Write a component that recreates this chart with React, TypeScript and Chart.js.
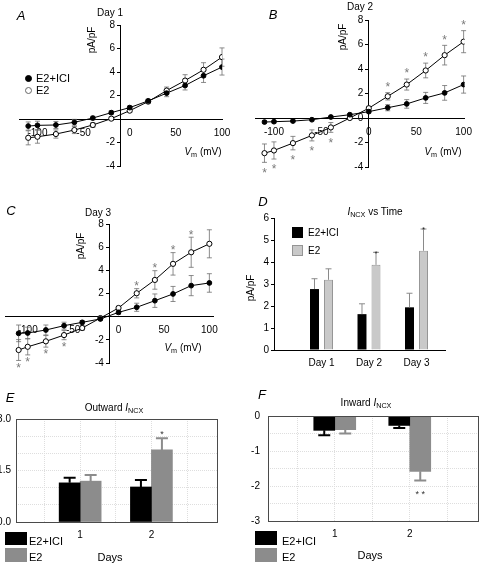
import React, { useEffect, useRef } from 'react';
import { Chart, registerables } from 'chart.js';

Chart.register(...registerables);

const FONT = "'Liberation Sans', Arial, Helvetica, sans-serif";

// ---------- I-V data (panels A-C) ----------
const vm = [-110, -100, -80, -60, -40, -20, 0, 20, 40, 60, 80, 100];
const ivXTicks = [-100, -50, 0, 50, 100];
const ivYTicks = [-4, -2, 2, 4, 6, 8];
const ivYTicksWithZero = [-4, -2, 0, 2, 4, 6, 8];

const day1IciMean = [-0.6, -0.54, -0.51, -0.28, 0.08, 0.54, 0.97, 1.54, 2.2, 2.85, 3.68, 4.42];
const day1IciSem = [0.35, 0.35, 0.3, 0.25, 0.15, 0.15, 0.15, 0.15, 0.3, 0.38, 0.57, 0.68];
const day1E2Mean = [-1.6, -1.51, -1.28, -0.94, -0.51, 0.03, 0.71, 1.48, 2.42, 3.27, 4.19, 5.27];
const day1E2Sem = [0.6, 0.55, 0.35, 0.3, 0.2, 0.15, 0.15, 0.15, 0.3, 0.5, 0.6, 0.78];
const day1E2Sig = [0, 0, 0, 0, 0, 0, 0, 0, 0, 0, 0, 0];

const day2IciMean = [-0.33, -0.3, -0.25, -0.14, 0.08, 0.27, 0.52, 0.84, 1.15, 1.64, 2.05, 2.73];
const day2IciSem = [0.1, 0.1, 0.08, 0.08, 0.08, 0.08, 0.1, 0.25, 0.35, 0.45, 0.6, 0.7];
const day2E2Mean = [-2.87, -2.65, -2.05, -1.42, -0.77, 0, 0.8, 1.77, 2.73, 3.88, 5.13, 6.23];
const day2E2Sem = [0.75, 0.7, 0.55, 0.45, 0.4, 0.1, 0.15, 0.3, 0.45, 0.6, 0.8, 0.9];
const day2E2Sig = [1, 1, 1, 1, 1, 0, 0, 1, 1, 1, 1, 1];

const day3IciMean = [-1.44, -1.41, -1.15, -0.78, -0.49, -0.2, 0.37, 0.81, 1.38, 1.96, 2.68, 2.91];
const day3IciSem = [0.72, 0.5, 0.43, 0.3, 0.15, 0.1, 0.15, 0.35, 0.58, 0.65, 0.87, 0.8];
const day3E2Mean = [-2.88, -2.6, -2.13, -1.59, -0.98, -0.12, 0.75, 2.02, 3.17, 4.56, 5.56, 6.29];
const day3E2Sem = [0.9, 0.7, 0.5, 0.4, 0.2, 0.1, 0.15, 0.4, 0.8, 0.97, 1.3, 1.21];
const day3E2Sig = [1, 1, 1, 1, 0, 0, 0, 1, 1, 1, 1, 0];

// ---------- I_NCX vs time (panel D) ----------
const days = ['Day 1', 'Day 2', 'Day 3'];
const dayPos = [1, 2, 3];
const timeIciMean = [2.77, 1.63, 1.94];
const timeIciSem = [0.47, 0.47, 0.64];
const timeE2Mean = [3.19, 3.87, 4.51];
const timeE2Sem = [0.5, 0.57, 0.99];
const timeE2Sig = [0, 1, 1];
const timeYTicks = [0, 1, 2, 3, 4, 5, 6];

// ---------- Outward / inward I_NCX (panels E, F) ----------
const dayNums = [1, 2];
const gridXTicks = [0.5, 1, 1.5, 2, 2.5];
const outIciMean = [1.14, 1.02];
const outIciSem = [0.15, 0.2];
const outE2Mean = [1.19, 2.1];
const outE2Sem = [0.18, 0.34];
const outE2Sig = [0, 1];
const outYTicks = [0, 0.5, 1, 1.5, 2, 2.5, 3];
const outYLabels = [0, 1.5, 3];

const inIciMean = [-0.41, -0.27];
const inIciSem = [0.14, 0.07];
const inE2Mean = [-0.39, -1.58];
const inE2Sem = [0.11, 0.26];
const inE2Sig = [0, 1];
const inYTicks = [-3, -2.5, -2, -1.5, -1, -0.5, 0];
const inYLabels = [-3, -2, -1, 0];

// ---------- plugins ----------
function valueOf(d: any) {
  return typeof d === 'number' ? d : d.y;
}

function drawErrors(chart: any, opts: any, layer: string) {
  const sets = (opts && opts.sets) || [];
  const ctx = chart.ctx;
  for (const s of sets) {
    if ((s.layer || 'before') !== layer) continue;
    const meta = chart.getDatasetMeta(s.dataset);
    const ys = chart.scales[meta.yAxisID];
    const data = chart.data.datasets[s.dataset].data;
    ctx.save();
    ctx.strokeStyle = s.color;
    ctx.lineWidth = s.width;
    meta.data.forEach((el: any, j: number) => {
      const v = valueOf(data[j]);
      const e = s.errors[j];
      const x = el.x;
      ctx.beginPath();
      if (s.mode === 'both') {
        const y1 = ys.getPixelForValue(v + e);
        const y2 = ys.getPixelForValue(v - e);
        ctx.moveTo(x, y1);
        ctx.lineTo(x, y2);
        ctx.moveTo(x - s.cap, y1);
        ctx.lineTo(x + s.cap, y1);
        ctx.moveTo(x - s.cap, y2);
        ctx.lineTo(x + s.cap, y2);
      } else {
        const sg = v >= 0 ? 1 : -1;
        const y0 = ys.getPixelForValue(v);
        const y1 = ys.getPixelForValue(v + sg * e);
        ctx.moveTo(x, y0);
        ctx.lineTo(x, y1);
        ctx.moveTo(x - s.cap, y1);
        ctx.lineTo(x + s.cap, y1);
      }
      ctx.stroke();
    });
    ctx.restore();
  }
}

const errorBars = {
  id: 'errorBars',
  beforeDatasetsDraw(chart: any, _a: any, opts: any) {
    drawErrors(chart, opts, 'before');
  },
  afterDatasetsDraw(chart: any, _a: any, opts: any) {
    drawErrors(chart, opts, 'after');
  },
};

const stars = {
  id: 'stars',
  afterDatasetsDraw(chart: any, _a: any, opts: any) {
    const items = (opts && opts.items) || [];
    const ctx = chart.ctx;
    ctx.save();
    ctx.font = opts.font;
    ctx.fillStyle = opts.color;
    ctx.textAlign = 'center';
    ctx.textBaseline = 'middle';
    for (const it of items) {
      const meta = chart.getDatasetMeta(it.dataset);
      const el = meta.data[it.index];
      const ys = chart.scales[meta.yAxisID];
      const v = valueOf(chart.data.datasets[it.dataset].data[it.index]);
      const sg = v >= 0 ? 1 : -1;
      const yEdge = ys.getPixelForValue(v + sg * it.err);
      const y = yEdge - sg * opts.gap + (opts.shift || 0);
      ctx.fillText(it.text, el.x, y);
    }
    ctx.restore();
  },
};

const frame = {
  id: 'frame',
  afterDatasetsDraw(chart: any, _a: any, opts: any) {
    if (!opts || !opts.color) return;
    const { left, top, right, bottom } = chart.chartArea;
    const ctx = chart.ctx;
    ctx.save();
    ctx.strokeStyle = opts.color;
    ctx.lineWidth = 1;
    ctx.strokeRect(Math.round(left) + 0.5, Math.round(top) + 0.5, Math.round(right - left), Math.round(bottom - top));
    ctx.restore();
  },
};

function starItems(sig: number[], err: number[], dataset: number, text: string) {
  const out: any[] = [];
  sig.forEach((s, i) => {
    if (s) out.push({ dataset, index: i, err: err[i], text });
  });
  return out;
}

// ---------- config builders ----------
function ivConfig(p: any) {
  return {
    type: 'line',
    data: {
      datasets: [
        {
          label: 'E2+ICI',
          data: vm.map((x, i) => ({ x, y: p.ici[i] })),
          borderColor: '#000',
          borderWidth: 1,
          pointRadius: 2.4,
          pointBackgroundColor: '#000',
          pointBorderColor: '#000',
          pointBorderWidth: 1,
          tension: 0,
          fill: false,
        },
        {
          label: 'E2',
          data: vm.map((x, i) => ({ x, y: p.e2[i] })),
          borderColor: '#000',
          borderWidth: 1,
          pointRadius: 2.6,
          pointBackgroundColor: '#fff',
          pointBorderColor: '#000',
          pointBorderWidth: 1,
          tension: 0,
          fill: false,
        },
      ],
    },
    options: {
      responsive: false,
      animation: false,
      events: [],
      layout: { padding: p.pad },
      plugins: {
        legend: { display: false },
        tooltip: { enabled: false },
        errorBars: {
          sets: [
            { dataset: 0, errors: p.iciErr, color: '#6e6e6e', width: 0.8, cap: 2.5, mode: 'both', layer: 'before' },
            { dataset: 1, errors: p.e2Err, color: '#6e6e6e', width: 0.8, cap: 2.5, mode: 'both', layer: 'before' },
          ],
        },
        stars: {
          items: starItems(p.sig, p.e2Err, 1, '*'),
          gap: p.starGap,
          shift: 3,
          font: `12px ${FONT}`,
          color: '#7a7a7a',
        },
      },
      scales: {
        x: {
          type: 'linear',
          min: p.xMin,
          max: p.xMax,
          position: { y: 0 },
          afterFit: (s: any) => {
            s.height = 0;
          },
          afterBuildTicks: (s: any) => {
            s.ticks = ivXTicks.map((v) => ({ value: v }));
          },
          grid: { drawOnChartArea: false, drawTicks: false, color: '#000' },
          border: { color: '#000', width: 1 },
          ticks: { color: '#000', font: { family: FONT, size: 10 }, padding: 8, maxRotation: 0, autoSkip: false },
        },
        y: {
          type: 'linear',
          min: -4,
          max: 8,
          position: { x: p.axisX },
          afterFit: (s: any) => {
            s.width = 0;
          },
          afterBuildTicks: (s: any) => {
            s.ticks = p.yTicks.map((v: number) => ({ value: v }));
          },
          grid: { drawOnChartArea: false, drawTicks: true, tickLength: 3, color: '#000' },
          border: { color: '#000', width: 1 },
          ticks: {
            color: '#000',
            font: { family: FONT, size: 10 },
            autoSkip: false,
            callback: (v: any) => `${v}  `,
          },
        },
      },
    },
    plugins: [errorBars, stars],
  };
}

function timeConfig() {
  return {
    type: 'bar',
    data: {
      datasets: [
        {
          label: 'E2+ICI',
          data: dayPos.map((x, i) => ({ x, y: timeIciMean[i] })),
          backgroundColor: '#000',
          borderWidth: 0,
          categoryPercentage: 0.59,
          barPercentage: 0.64,
        },
        {
          label: 'E2',
          data: dayPos.map((x, i) => ({ x, y: timeE2Mean[i] })),
          backgroundColor: '#c9c9c9',
          borderColor: '#959595',
          borderWidth: 1,
          categoryPercentage: 0.59,
          barPercentage: 0.64,
        },
      ],
    },
    options: {
      responsive: false,
      animation: false,
      events: [],
      layout: { padding: { left: 0, right: 35, top: 18, bottom: 20 } },
      plugins: {
        legend: { display: false },
        tooltip: { enabled: false },
        errorBars: {
          sets: [
            { dataset: 0, errors: timeIciSem, color: '#8a8a8a', width: 1, cap: 3, mode: 'out', layer: 'after' },
            { dataset: 1, errors: timeE2Sem, color: '#8a8a8a', width: 1, cap: 3, mode: 'out', layer: 'after' },
          ],
        },
        stars: {
          items: starItems(timeE2Sig, timeE2Sem, 1, '*'),
          gap: 1,
          shift: 2,
          font: `8px ${FONT}`,
          color: '#222',
        },
      },
      scales: {
        x: {
          type: 'linear',
          min: 0,
          max: 3.6,
          offset: false,
          position: 'bottom',
          afterFit: (s: any) => {
            s.height = 25;
          },
          afterBuildTicks: (s: any) => {
            s.ticks = dayPos.map((v) => ({ value: v }));
          },
          grid: { offset: false, drawOnChartArea: false, drawTicks: false, color: '#000' },
          border: { color: '#000', width: 1 },
          ticks: {
            color: '#000',
            font: { family: FONT, size: 10 },
            padding: 7,
            maxRotation: 0,
            autoSkip: false,
            callback: (v: any) => {
              const k = dayPos.indexOf(v);
              return k >= 0 ? days[k] : '';
            },
          },
        },
        y: {
          type: 'linear',
          min: 0,
          max: 6,
          position: 'left',
          afterFit: (s: any) => {
            s.width = 34;
          },
          afterBuildTicks: (s: any) => {
            s.ticks = timeYTicks.map((v) => ({ value: v }));
          },
          grid: { drawOnChartArea: false, drawTicks: true, tickLength: 3, color: '#000' },
          border: { color: '#000', width: 1 },
          ticks: { color: '#000', font: { family: FONT, size: 10 }, padding: 2, autoSkip: false },
        },
      },
    },
    plugins: [errorBars, stars],
  };
}

function boxConfig(p: any) {
  return {
    type: 'bar',
    data: {
      datasets: [
        {
          label: 'E2+ICI',
          data: dayNums.map((x, i) => ({ x, y: p.ici[i] })),
          backgroundColor: '#000',
          borderWidth: 0,
          barThickness: 21,
        },
        {
          label: 'E2',
          data: dayNums.map((x, i) => ({ x, y: p.e2[i] })),
          backgroundColor: '#8c8c8c',
          borderWidth: 0,
          barThickness: 21,
        },
      ],
    },
    options: {
      responsive: false,
      animation: false,
      events: [],
      layout: { padding: p.pad },
      plugins: {
        legend: { display: false },
        tooltip: { enabled: false },
        frame: { color: '#4a4a4a' },
        errorBars: {
          sets: [
            { dataset: 0, errors: p.iciErr, color: '#000', width: 2, cap: 6, mode: 'out', layer: 'after' },
            { dataset: 1, errors: p.e2Err, color: '#8c8c8c', width: 2, cap: 6, mode: 'out', layer: 'after' },
          ],
        },
        stars: {
          items: starItems(p.sig, p.e2Err, 1, p.starText),
          gap: p.starGap,
          shift: 2,
          font: `9px ${FONT}`,
          color: '#333',
        },
      },
      scales: {
        x: {
          type: 'linear',
          min: p.xMin,
          max: p.xMax,
          offset: false,
          position: 'bottom',
          afterFit: (s: any) => {
            s.height = p.xAxisH;
          },
          afterBuildTicks: (s: any) => {
            s.ticks = gridXTicks.map((v) => ({ value: v }));
          },
          grid: { offset: false, drawTicks: false, color: '#dedede', lineWidth: 1 },
          border: { display: false, dash: [1, 1] },
          ticks: {
            color: '#000',
            font: { family: FONT, size: 10 },
            padding: 7,
            maxRotation: 0,
            autoSkip: false,
            callback: (v: any) => (dayNums.includes(v) ? String(v) : ''),
          },
        },
        y: {
          type: 'linear',
          min: p.yMin,
          max: p.yMax,
          position: 'left',
          afterFit: (s: any) => {
            s.width = p.yAxisW;
          },
          afterBuildTicks: (s: any) => {
            s.ticks = p.yTicks.map((v: number) => ({ value: v }));
          },
          grid: { drawTicks: false, color: '#dedede', lineWidth: 1 },
          border: { display: false, dash: [1, 1] },
          ticks: {
            color: '#000',
            font: { family: FONT, size: 10 },
            padding: p.yPad,
            autoSkip: false,
            callback: p.yLabel,
          },
        },
      },
    },
    plugins: [errorBars, stars, frame],
  };
}

// ---------- components ----------
function ChartBox({ left, top, width, height, make }: any) {
  const ref = useRef<HTMLCanvasElement | null>(null);
  useEffect(() => {
    const chart = new Chart(ref.current as HTMLCanvasElement, make() as any);
    return () => chart.destroy();
  }, []);
  return (
    <canvas
      ref={ref}
      width={width}
      height={height}
      style={{ position: 'absolute', left, top, width, height }}
    />
  );
}

function T({ x, y, size = 10, italic = false, rot = false, left = false, children }: any) {
  const tx = left ? '0' : '-50%';
  return (
    <div
      style={{
        position: 'absolute',
        left: x,
        top: y,
        transform: `translate(${tx}, -50%)${rot ? ' rotate(-90deg)' : ''}`,
        font: `${italic ? 'italic ' : ''}${size}px ${FONT}`,
        whiteSpace: 'nowrap',
        lineHeight: 1,
        color: '#000',
      }}
    >
      {children}
    </div>
  );
}

const subStyle: any = { fontSize: '72%', verticalAlign: '-0.3em', lineHeight: 0 };

function Vm() {
  return (
    <span>
      <i>V</i>
      <span style={subStyle}>m</span> (mV)
    </span>
  );
}

function Incx() {
  return (
    <span>
      <i>I</i>
      <span style={subStyle}>NCX</span>
    </span>
  );
}

function Box({ x, y, w, h, bg, border }: any) {
  return (
    <div
      style={{
        position: 'absolute',
        left: x,
        top: y,
        width: w,
        height: h,
        background: bg,
        boxSizing: 'border-box',
        border: border ? `1px solid ${border}` : 'none',
      }}
    />
  );
}

function Dot({ x, y, fill }: any) {
  return (
    <div
      style={{
        position: 'absolute',
        left: x - 3.5,
        top: y - 3.5,
        width: 7,
        height: 7,
        borderRadius: '50%',
        boxSizing: 'border-box',
        background: fill ? '#000' : '#fff',
        border: fill ? '1px solid #000' : '1px solid #666',
      }}
    />
  );
}

export default function App() {
  return (
    <div style={{ position: 'absolute', left: 0, top: 0, width: 480, height: 563, background: '#fff', overflow: 'hidden' }}>
      <ChartBox
        left={0}
        top={0}
        width={240}
        height={200}
        make={() =>
          ivConfig({
            ici: day1IciMean,
            iciErr: day1IciSem,
            e2: day1E2Mean,
            e2Err: day1E2Sem,
            sig: day1E2Sig,
            xMin: -120,
            xMax: 100,
            axisX: -10,
            yTicks: ivYTicks,
            starGap: 8,
            pad: { left: 19, right: 18, top: 25, bottom: 34 },
          })
        }
      />
      <ChartBox
        left={240}
        top={0}
        width={240}
        height={200}
        make={() =>
          ivConfig({
            ici: day2IciMean,
            iciErr: day2IciSem,
            e2: day2E2Mean,
            e2Err: day2E2Sem,
            sig: day2E2Sig,
            xMin: -120,
            xMax: 101,
            axisX: 0,
            yTicks: ivYTicksWithZero,
            starGap: 8,
            pad: { left: 15, right: 10, top: 20, bottom: 33 },
          })
        }
      />
      <ChartBox
        left={0}
        top={200}
        width={240}
        height={200}
        make={() =>
          ivConfig({
            ici: day3IciMean,
            iciErr: day3IciSem,
            e2: day3E2Mean,
            e2Err: day3E2Sem,
            sig: day3E2Sig,
            xMin: -125,
            xMax: 104,
            axisX: -10,
            yTicks: ivYTicks,
            starGap: 5,
            pad: { left: 0, right: 27, top: 24, bottom: 37 },
          })
        }
      />
      <ChartBox left={240} top={200} width={240} height={195} make={() => timeConfig()} />
      <ChartBox
        left={0}
        top={395}
        width={240}
        height={168}
        make={() =>
          boxConfig({
            ici: outIciMean,
            iciErr: outIciSem,
            e2: outE2Mean,
            e2Err: outE2Sem,
            sig: outE2Sig,
            starText: '*',
            starGap: 6,
            xMin: 0.1,
            xMax: 2.92,
            yMin: 0,
            yMax: 3,
            yTicks: outYTicks,
            yPad: 5,
            yAxisW: 16,
            xAxisH: 22,
            yLabel: (v: any) => (outYLabels.includes(v) ? Number(v).toFixed(1) : ''),
            pad: { left: 0, right: 23, top: 24, bottom: 19 },
          })
        }
      />
      <ChartBox
        left={240}
        top={395}
        width={240}
        height={168}
        make={() =>
          boxConfig({
            ici: inIciMean,
            iciErr: inIciSem,
            e2: inE2Mean,
            e2Err: inE2Sem,
            sig: inE2Sig,
            starText: '* *',
            starGap: 12,
            xMin: 0.11,
            xMax: 2.91,
            yMin: -3,
            yMax: 0,
            yTicks: inYTicks,
            yPad: 8,
            yAxisW: 28,
            xAxisH: 22,
            yLabel: (v: any) => (inYLabels.includes(v) ? String(v) : ''),
            pad: { left: 0, right: 2, top: 21, bottom: 20 },
          })
        }
      />

      {/* Panel A texts */}
      <T x={21} y={15} size={13} italic>A</T>
      <T x={110} y={13}>Day 1</T>
      <T x={92} y={40} rot>pA/pF</T>
      <Dot x={28} y={78} fill />
      <T x={36} y={78} size={11} left>E2+ICI</T>
      <Dot x={28} y={90} />
      <T x={36} y={90} size={11} left>E2</T>
      <T x={203} y={152}><Vm /></T>

      {/* Panel B texts */}
      <T x={273} y={14} size={13} italic>B</T>
      <T x={360} y={7}>Day 2</T>
      <T x={343} y={37} rot>pA/pF</T>
      <T x={443} y={152}><Vm /></T>

      {/* Panel C texts */}
      <T x={11} y={210} size={13} italic>C</T>
      <T x={98} y={213}>Day 3</T>
      <T x={81} y={246} rot>pA/pF</T>
      <T x={183} y={348}><Vm /></T>

      {/* Panel D texts */}
      <T x={263} y={201} size={13} italic>D</T>
      <T x={375} y={212}><Incx /> vs Time</T>
      <T x={251} y={288} rot>pA/pF</T>
      <Box x={292} y={227} w={11} h={11} bg="#000" />
      <T x={308} y={233} left>E2+ICI</T>
      <Box x={292} y={245} w={11} h={11} bg="#c9c9c9" border="#959595" />
      <T x={308} y={251} left>E2</T>

      {/* Panel E texts */}
      <T x={10} y={397} size={13} italic>E</T>
      <T x={114} y={408}>Outward <Incx /></T>
      <Box x={5} y={532} w={22} h={13} bg="#000" />
      <T x={29} y={541} size={11} left>E2+ICI</T>
      <Box x={5} y={548} w={22} h={14} bg="#8c8c8c" />
      <T x={29} y={557} size={11} left>E2</T>
      <T x={110} y={557} size={11}>Days</T>

      {/* Panel F texts */}
      <T x={262} y={394} size={13} italic>F</T>
      <T x={366} y={403}>Inward <Incx /></T>
      <Box x={255} y={531} w={22} h={14} bg="#000" />
      <T x={282} y={541} size={11} left>E2+ICI</T>
      <Box x={255} y={548} w={22} h={14} bg="#8c8c8c" />
      <T x={282} y={557} size={11} left>E2</T>
      <T x={370} y={555} size={11}>Days</T>
    </div>
  );
}
